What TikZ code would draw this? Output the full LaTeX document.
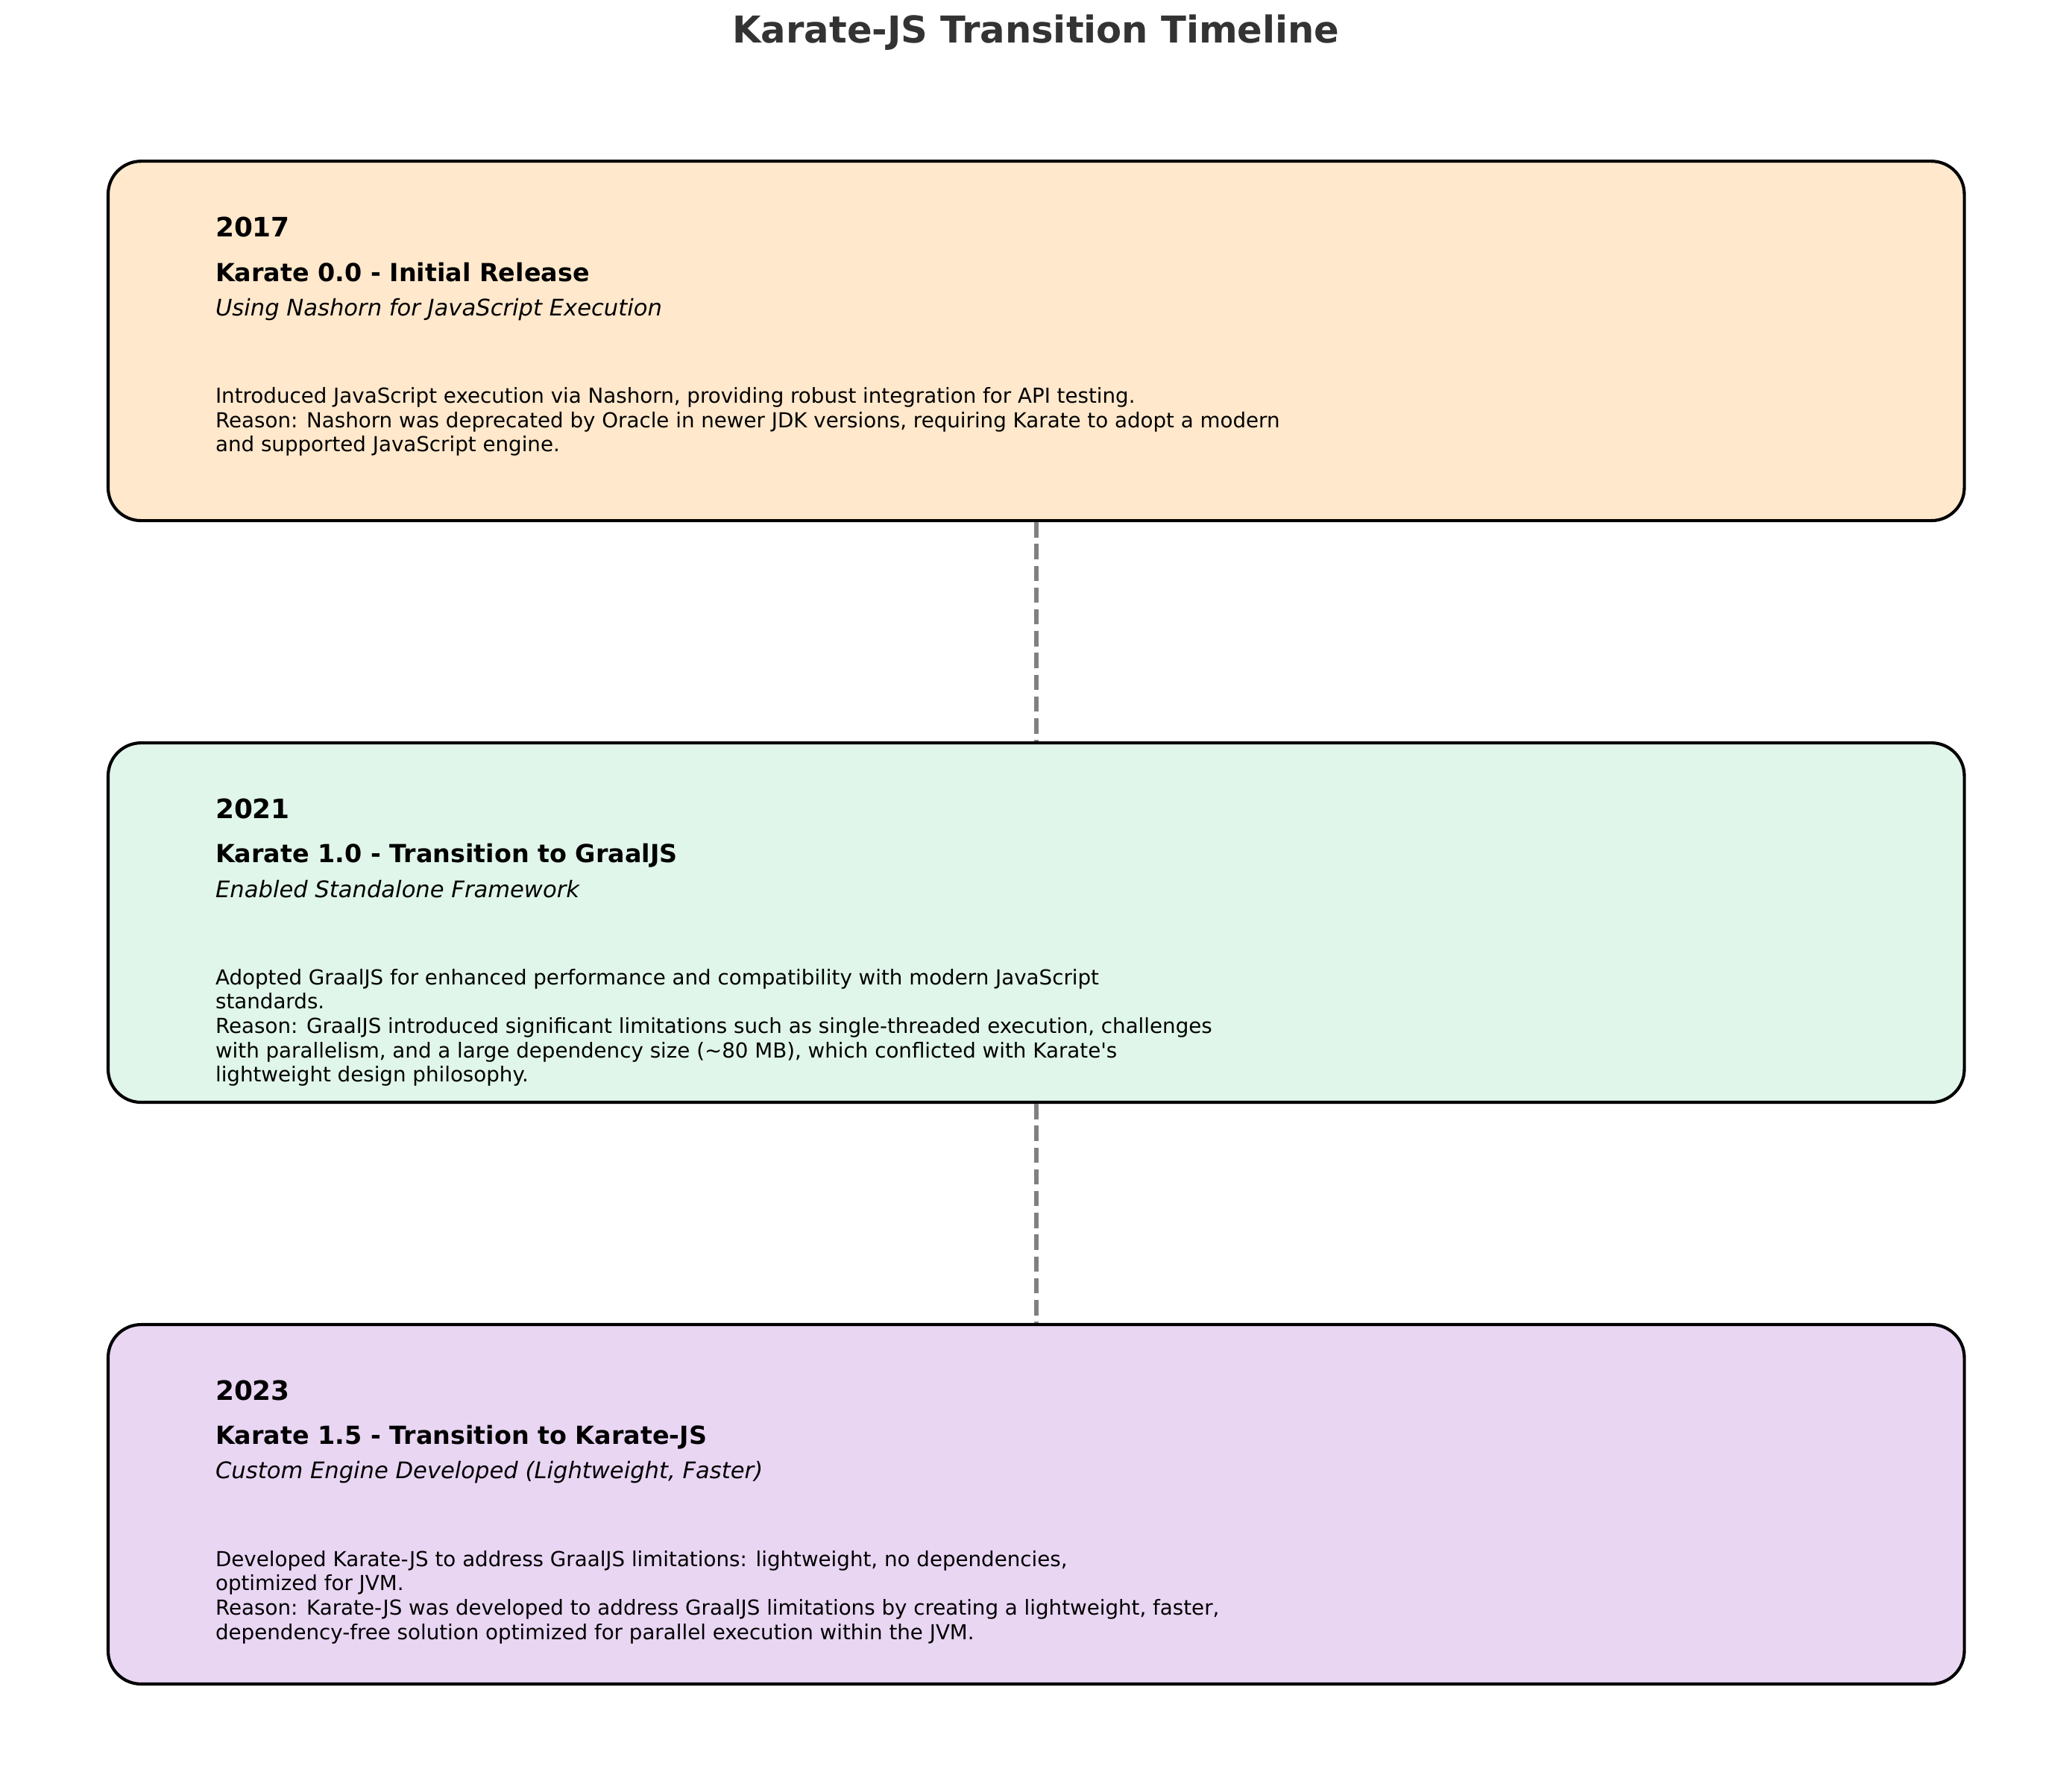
\documentclass[tikz,border=0pt]{standalone}
\usepackage{fontspec}
\setmainfont{DejaVu Sans}
\usepackage{xcolor}
\usepackage{tikz}
\usetikzlibrary{
    positioning,      % For node placement (below=of ...)
    calc              % For shifted coordinates
}
\definecolor{titlegray}{HTML}{333333}
\definecolor{stageA}{HTML}{FFE8CC}
\definecolor{stageB}{HTML}{E0F6EA}
\definecolor{stageC}{HTML}{E9D6F3}
\definecolor{linkgray}{HTML}{808080}
\tikzset{
  % Style for the rounded stage boxes
  stage/.style={
    rectangle, draw=black, line width=1.5pt, rounded corners=16pt,
    fill=#1, minimum width=903pt, minimum height=174.8pt, inner sep=0pt
  },
  % Style for the year line
  yearlbl/.style={
    anchor=base west, inner sep=0pt, font=\fontsize{13}{15}\selectfont\bfseries
  },
  % Style for the release heading
  headlbl/.style={
    anchor=base west, inner sep=0pt, font=\fontsize{12.1}{14}\selectfont\bfseries
  },
  % Style for the italic subtitle
  sublbl/.style={
    anchor=base west, inner sep=0pt, font=\fontsize{11.1}{13}\selectfont\itshape
  },
  % Style for the description block (top of first line)
  desclbl/.style={
    anchor=north west, inner sep=0pt, align=left,
    font=\fontsize{10.05}{11.85}\selectfont
  },
  % Style for the dashed timeline link
  link/.style={
    draw=linkgray, line width=2pt, dash pattern=on 7.4pt off 3.2pt
  }
}

\begin{document}
\begin{tikzpicture}[node distance=106.6pt]
        \useasboundingbox (0,0) rectangle (1008pt,-863.2pt);

        \node[font=\fontsize{18}{21}\selectfont\bfseries, text=titlegray, anchor=base, inner sep=0pt]
            (title) at (504pt,-20.7pt) {Karate-JS Transition Timeline};

        \node[stage=stageA] (k2017) at (504.1pt,-165.8pt) {};
        \node[stage=stageB, below=of k2017] (k2021) {};
        \node[stage=stageC, below=of k2021] (k2023) {};

        \draw[link] (k2017) -- (k2021);
        \draw[link] (k2021) -- (k2023);

        % 2017
        \node[yearlbl] (y2017) at ($(k2017.north west)+(52.8pt,-37.4pt)$) {2017};
        \node[headlbl] (h2017) at ($(k2017.north west)+(52.8pt,-59.1pt)$) {Karate 0.0 - Initial Release};
        \node[sublbl] (s2017) at ($(k2017.north west)+(52.8pt,-75.8pt)$) {Using Nashorn for JavaScript Execution};
        \node[desclbl] (d2017) at ($(k2017.north west)+(52.8pt,-110.5pt)$) {Introduced JavaScript execution via Nashorn, providing robust integration for API testing.\\
            Reason: Nashorn was deprecated by Oracle in newer JDK versions, requiring Karate to adopt a modern\\
            and supported JavaScript engine.};

        % 2021
        \node[yearlbl] (y2021) at ($(k2021.north west)+(52.8pt,-37.4pt)$) {2021};
        \node[headlbl] (h2021) at ($(k2021.north west)+(52.8pt,-59.1pt)$) {Karate 1.0 - Transition to GraalJS};
        \node[sublbl] (s2021) at ($(k2021.north west)+(52.8pt,-75.8pt)$) {Enabled Standalone Framework};
        \node[desclbl] (d2021) at ($(k2021.north west)+(52.8pt,-110.5pt)$) {Adopted GraalJS for enhanced performance and compatibility with modern JavaScript\\
            standards.\\
            Reason: GraalJS introduced significant limitations such as single-threaded execution, challenges\\
            with parallelism, and a large dependency size (\textasciitilde80 MB), which conflicted with Karate\textquotesingle s\\
            lightweight design philosophy.};

        % 2023
        \node[yearlbl] (y2023) at ($(k2023.north west)+(52.8pt,-37.4pt)$) {2023};
        \node[headlbl] (h2023) at ($(k2023.north west)+(52.8pt,-59.1pt)$) {Karate 1.5 - Transition to Karate-JS};
        \node[sublbl] (s2023) at ($(k2023.north west)+(52.8pt,-75.8pt)$) {Custom Engine Developed (Lightweight, Faster)};
        \node[desclbl] (d2023) at ($(k2023.north west)+(52.8pt,-110.5pt)$) {Developed Karate-JS to address GraalJS limitations: lightweight, no dependencies,\\
            optimized for JVM.\\
            Reason: Karate-JS was developed to address GraalJS limitations by creating a lightweight, faster,\\
            dependency-free solution optimized for parallel execution within the JVM.};

    \end{tikzpicture}
\end{document}
